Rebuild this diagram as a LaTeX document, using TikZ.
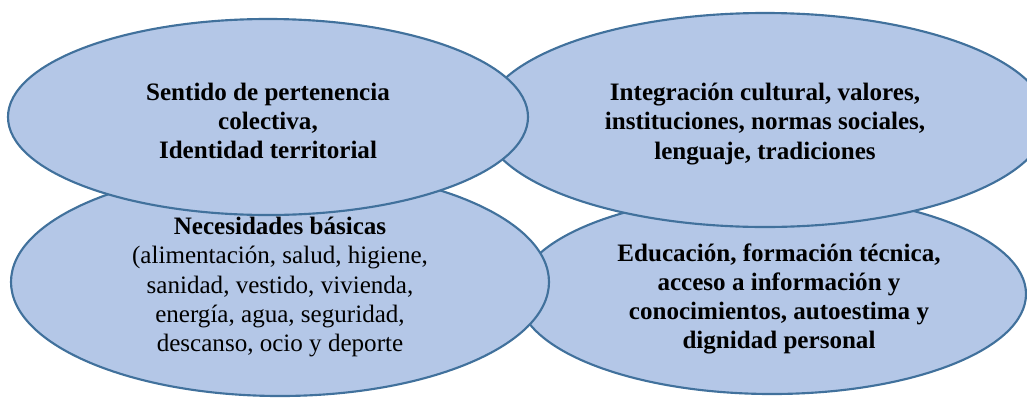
\documentclass[tikz,border=0pt]{standalone}
\usepackage{fontspec}
\setmainfont{Liberation Serif}
\usetikzlibrary{shapes.geometric}

\definecolor{ovalfill}{RGB}{180,199,231}
\definecolor{ovalline}{RGB}{65,113,156}

\tikzset{
  oval/.style={ellipse, draw=ovalline, fill=ovalfill, line width=1.6pt, inner sep=0pt},
  ovaltext/.style={align=center, text=black, inner sep=0pt,
    font=\fontsize{18.8}{21.8}\selectfont},
  boldtext/.style={ovaltext, font=\fontsize{18.8}{21.8}\selectfont\bfseries}
}

\begin{document}
\begin{tikzpicture}[x=0.75pt, y=-0.75pt]
	\clip (0,0) rectangle (1027,397);
	% lower row first, upper row on top
	\node[oval, minimum width=381pt, minimum height=150pt] (educacion) at (772,294) {};
	\node[boldtext] (educacion-txt) at ([shift={(7,5)}]educacion.center)
		{Educación, formación técnica,\\ acceso a información y\\ conocimientos, autoestima y\\ dignidad personal};
	\node[oval, minimum width=423pt, minimum height=160.5pt] (integracion) at (765,120) {};
	\node[boldtext] (integracion-txt) at ([shift={(0,4)}]integracion.center)
		{Integración cultural, valores,\\ instituciones, normas sociales,\\ lenguaje, tradiciones};
	\node[oval, minimum width=403.5pt, minimum height=171pt] (necesidades) at (280,282) {};
	\node[ovaltext] (necesidades-txt) at ([shift={(0,5)}]necesidades.center)
		{\textbf{Necesidades básicas}\\ (alimentación, salud, higiene,\\ sanidad, vestido, vivienda,\\ energía, agua, seguridad,\\ descanso, ocio y deporte};
	\node[oval, minimum width=390pt, minimum height=147pt] (pertenencia) at (268,117) {};
	\node[boldtext] (pertenencia-txt) at ([shift={(0,4)}]pertenencia.center)
		{Sentido de pertenencia\\ colectiva,\\ Identidad territorial};
\end{tikzpicture}
\end{document}
